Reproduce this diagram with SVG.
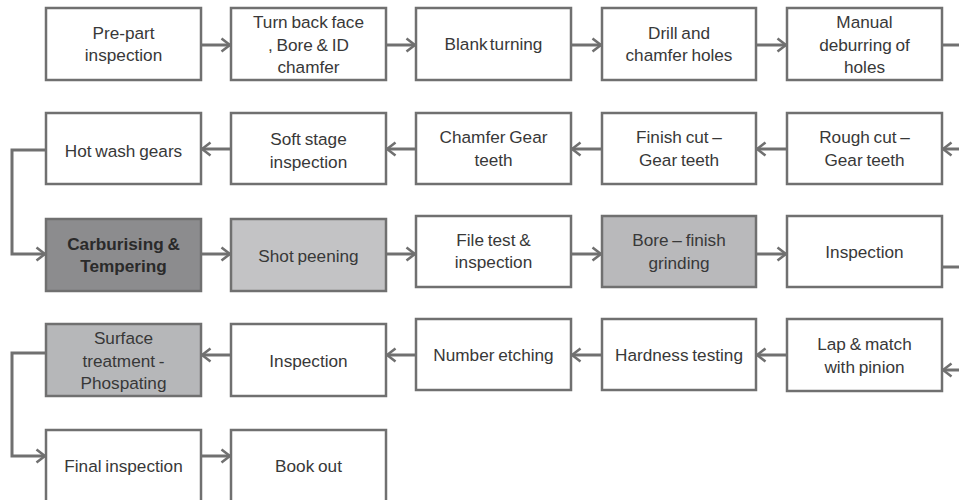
<svg xmlns="http://www.w3.org/2000/svg" width="959" height="500" viewBox="0 0 959 500">
<style>
.b{fill:#fff;stroke:#707070;stroke-width:2.5}
.t{font-family:"Liberation Sans",Arial,sans-serif;font-size:17.2px;fill:#383838;text-anchor:middle;word-spacing:-1px}
.c{fill:none;stroke:#707070;stroke-width:3}
.a{marker-end:url(#ah)}
</style>
<defs>
<marker id="ah" markerUnits="userSpaceOnUse" viewBox="0 0 12 16" refX="10.5" refY="8" markerWidth="12" markerHeight="16" orient="auto">
<path d="M2,1.5 L10.5,8 L2,14.5" fill="none" stroke="#707070" stroke-width="2.6"/>
</marker>
</defs>
<rect width="959" height="500" fill="#fff"/>
<g id="connectors">
<line class="c a" x1="201" y1="45" x2="230" y2="45"/>
<line class="c a" x1="386" y1="45" x2="415" y2="45"/>
<line class="c a" x1="571" y1="45" x2="601" y2="45"/>
<line class="c a" x1="756" y1="45" x2="786" y2="45"/>
<line class="c" x1="942" y1="45" x2="959" y2="45"/>
<line class="c a" x1="959" y1="149" x2="943" y2="149"/>
<line class="c a" x1="786" y1="149" x2="757" y2="149"/>
<line class="c a" x1="601" y1="149" x2="572" y2="149"/>
<line class="c a" x1="415" y1="149" x2="387" y2="149"/>
<line class="c a" x1="230" y1="149" x2="202" y2="149"/>
<polyline class="c a" points="46,150 12,150 12,254 45,254"/>
<line class="c a" x1="201" y1="254" x2="230" y2="254"/>
<line class="c a" x1="386" y1="254" x2="415" y2="254"/>
<line class="c a" x1="571" y1="254" x2="601" y2="254"/>
<line class="c a" x1="756" y1="254" x2="786" y2="254"/>
<line class="c" x1="942" y1="267" x2="959" y2="267"/>
<line class="c a" x1="959" y1="370" x2="943" y2="370"/>
<line class="c a" x1="786" y1="355" x2="757" y2="355"/>
<line class="c a" x1="601" y1="355" x2="572" y2="355"/>
<line class="c a" x1="415" y1="355" x2="387" y2="355"/>
<line class="c a" x1="230" y1="355" x2="202" y2="355"/>
<polyline class="c a" points="46,353 12,353 12,456 45,456"/>
<line class="c a" x1="201" y1="456" x2="230" y2="456"/>
</g>
<g id="n1"><rect class="b" x="46" y="8" width="155" height="72"/><text class="t" x="123.5" y="39">Pre-part</text><text class="t" x="123.5" y="61">inspection</text></g>
<g id="n2"><rect class="b" x="231" y="8" width="155" height="72"/><text class="t" x="308.5" y="28">Turn back face</text><text class="t" x="308.5" y="51">, Bore &amp; ID</text><text class="t" x="308.5" y="73">chamfer</text></g>
<g id="n3"><rect class="b" x="416" y="8" width="155" height="72"/><text class="t" x="493.5" y="50" style="word-spacing:-2.5px">Blank turning</text></g>
<g id="n4"><rect class="b" x="602" y="8" width="154" height="72"/><text class="t" x="679" y="39">Drill and</text><text class="t" x="679" y="61">chamfer holes</text></g>
<g id="n5"><rect class="b" x="787" y="8" width="155" height="72"/><text class="t" x="864.5" y="28">Manual</text><text class="t" x="864.5" y="51">deburring of</text><text class="t" x="864.5" y="73">holes</text></g>

<g id="n6"><rect class="b" x="787" y="113" width="155" height="71"/><text class="t" x="864.5" y="143">Rough cut –</text><text class="t" x="864.5" y="166">Gear teeth</text></g>
<g id="n7"><rect class="b" x="602" y="113" width="154" height="71"/><text class="t" x="679" y="143">Finish cut –</text><text class="t" x="679" y="166">Gear teeth</text></g>
<g id="n8"><rect class="b" x="416" y="113" width="155" height="71"/><text class="t" x="493.5" y="143">Chamfer Gear</text><text class="t" x="493.5" y="166">teeth</text></g>
<g id="n9"><rect class="b" x="231" y="113" width="155" height="71"/><text class="t" x="308.5" y="145">Soft stage</text><text class="t" x="308.5" y="168">inspection</text></g>
<g id="n10"><rect class="b" x="46" y="113" width="155" height="71"/><text class="t" x="123.5" y="157">Hot wash gears</text></g>

<g id="n11"><rect class="b" x="46" y="219" width="155" height="72" style="fill:#8c8c8e"/><text class="t" x="123.5" y="250" style="font-weight:bold;fill:#2a2a2a">Carburising &amp;</text><text class="t" x="123.5" y="272" style="font-weight:bold;fill:#2a2a2a">Tempering</text></g>
<g id="n12"><rect class="b" x="231" y="219" width="155" height="72" style="fill:#c3c3c5"/><text class="t" x="308.5" y="262">Shot peening</text></g>
<g id="n13"><rect class="b" x="416" y="216" width="155" height="71"/><text class="t" x="493.5" y="246">File test &amp;</text><text class="t" x="493.5" y="268">inspection</text></g>
<g id="n14"><rect class="b" x="602" y="216" width="154" height="71" style="fill:#b9b9bb"/><text class="t" x="679" y="246">Bore – finish</text><text class="t" x="679" y="269">grinding</text></g>
<g id="n15"><rect class="b" x="787" y="216" width="155" height="71"/><text class="t" x="864.5" y="258">Inspection</text></g>

<g id="n16"><rect class="b" x="787" y="319" width="155" height="72"/><text class="t" x="864.5" y="350">Lap &amp; match</text><text class="t" x="864.5" y="373">with pinion</text></g>
<g id="n17"><rect class="b" x="602" y="319" width="154" height="71"/><text class="t" x="679" y="361">Hardness testing</text></g>
<g id="n18"><rect class="b" x="416" y="319" width="155" height="71"/><text class="t" x="493.5" y="361">Number etching</text></g>
<g id="n19"><rect class="b" x="231" y="324" width="155" height="72"/><text class="t" x="308.5" y="367">Inspection</text></g>
<g id="n20"><rect class="b" x="46" y="324" width="155" height="72" style="fill:#b6b7b9"/><text class="t" x="123.5" y="344">Surface</text><text class="t" x="123.5" y="367">treatment -</text><text class="t" x="123.5" y="389">Phospating</text></g>

<g id="n21"><rect class="b" x="46" y="430" width="155" height="72"/><text class="t" x="123.5" y="472">Final inspection</text></g>
<g id="n22"><rect class="b" x="231" y="430" width="155" height="72"/><text class="t" x="308.5" y="472">Book out</text></g>
</svg>
